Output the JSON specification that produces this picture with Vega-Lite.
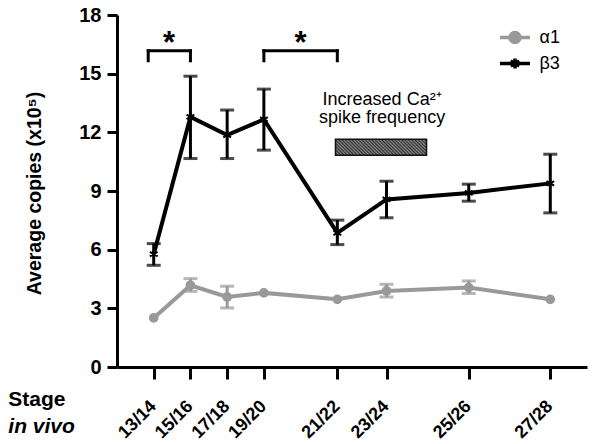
{
  "$schema": "https://vega.github.io/schema/vega-lite/v6.json",
  "autosize": {"type": "none"},
  "width": 470,
  "height": 352,
  "padding": {"left": 117, "top": 15, "right": 13, "bottom": 77},
  "background": "white",
  "config": {
    "view": {"stroke": null},
    "font": "Liberation Sans",
    "axis": {"grid": false, "domainColor": "black", "tickColor": "black", "labelColor": "black", "titleColor": "black", "domainWidth": 3, "tickWidth": 3, "labelFont": "Liberation Sans", "titleFont": "Liberation Sans"}
  },
  "datasets": {
    "expr": [
      {"stage": "13/14", "pos": 0, "gene": "α1", "mean": 2.51, "lo": null, "hi": null},
      {"stage": "15/16", "pos": 1, "gene": "α1", "mean": 4.18, "lo": 3.87, "hi": 4.52},
      {"stage": "17/18", "pos": 2, "gene": "α1", "mean": 3.58, "lo": 3.02, "hi": 4.13},
      {"stage": "19/20", "pos": 3, "gene": "α1", "mean": 3.79, "lo": null, "hi": null},
      {"stage": "21/22", "pos": 5, "gene": "α1", "mean": 3.46, "lo": null, "hi": null},
      {"stage": "23/24", "pos": 6.34, "gene": "α1", "mean": 3.89, "lo": 3.58, "hi": 4.23},
      {"stage": "25/26", "pos": 8.58, "gene": "α1", "mean": 4.06, "lo": 3.76, "hi": 4.4},
      {"stage": "27/28", "pos": 10.8, "gene": "α1", "mean": 3.46, "lo": null, "hi": null},
      {"stage": "13/14", "pos": 0, "gene": "β3", "mean": 5.77, "lo": 5.2, "hi": 6.31},
      {"stage": "15/16", "pos": 1, "gene": "β3", "mean": 12.79, "lo": 10.66, "hi": 14.87},
      {"stage": "17/18", "pos": 2, "gene": "β3", "mean": 11.86, "lo": 10.66, "hi": 13.14},
      {"stage": "19/20", "pos": 3, "gene": "β3", "mean": 12.66, "lo": 11.09, "hi": 14.21},
      {"stage": "21/22", "pos": 5, "gene": "β3", "mean": 6.86, "lo": 6.26, "hi": 7.51},
      {"stage": "23/24", "pos": 6.34, "gene": "β3", "mean": 8.57, "lo": 7.63, "hi": 9.5},
      {"stage": "25/26", "pos": 8.58, "gene": "β3", "mean": 8.9, "lo": 8.48, "hi": 9.35},
      {"stage": "27/28", "pos": 10.8, "gene": "β3", "mean": 9.39, "lo": 7.88, "hi": 10.88}
    ],
    "brackets": [
      {"x": -0.15, "x2": 1, "y": 16.17, "y2": 16.17},
      {"x": -0.15, "x2": -0.15, "y": 16.17, "y2": 15.66},
      {"x": 1, "x2": 1, "y": 16.17, "y2": 15.66},
      {"x": 3, "x2": 5, "y": 16.17, "y2": 16.17},
      {"x": 3, "x2": 3, "y": 16.17, "y2": 15.66},
      {"x": 5, "x2": 5, "y": 16.17, "y2": 15.66}
    ],
    "stars": [
      {"x": 0.42, "y": 16.05, "label": "*"},
      {"x": 4.0, "y": 16.05, "label": "*"}
    ],
    "catext": [
      {"x": 6.22, "y": 13.39, "label": "Increased Ca²⁺"},
      {"x": 6.22, "y": 12.46, "label": "spike frequency"}
    ],
    "bar": [{"x": 4.95, "x2": 7.43, "y": 10.83, "y2": 11.64}],
    "stage1": [{"x": -3.96, "y": -2.01, "label": "Stage"}],
    "stage2": [{"x": -3.96, "y": -3.37, "label": "in vivo"}]
  },
  "layer": [
    {
      "data": {"name": "expr"},
      "encoding": {
        "x": {"field": "pos", "type": "quantitative", "title": null,
          "scale": {"domain": [-1, 11.8], "nice": false, "zero": false},
          "axis": {"values": [0, 1, 2, 3, 5, 6.34, 8.58, 10.8], "labelAngle": -45, "labelAlign": "right", "labelBaseline": "top", "labelOffset": -7, "labelFontSize": 18, "labelFontWeight": "bold", "tickSize": 12, "labelPadding": 18, "labelOverlap": false, "labelBound": false,
            "labelExpr": "datum.value == 0 ? '13/14' : datum.value == 1 ? '15/16' : datum.value == 2 ? '17/18' : datum.value == 3 ? '19/20' : datum.value == 5 ? '21/22' : datum.value == 6.34 ? '23/24' : datum.value == 8.58 ? '25/26' : '27/28'"}},
        "y": {"field": "mean", "type": "quantitative", "title": "Average copies (x10⁵)",
          "scale": {"domain": [0, 18], "nice": false},
          "axis": {"values": [0, 3, 6, 9, 12, 15, 18], "labelFontSize": 20, "labelFontWeight": "bold", "tickSize": 10, "labelPadding": 6, "titleFontSize": 19.5, "titleFontWeight": "bold", "titlePadding": 34, "titleY": 178}},
        "color": {"field": "gene", "type": "nominal",
          "scale": {"domain": ["α1", "β3"], "range": ["#999999", "#000000"]},
          "legend": {"orient": "none", "legendX": 388.5, "legendY": 13, "title": null, "symbolSize": 225, "labelFontSize": 18, "labelOffset": 15, "rowPadding": 1, "padding": 0, "labelColor": "black", "labelFont": "Liberation Sans",
            "encode": {"symbols": {"update": {
              "shape": {"signal": "datum.value === 'α1' ? 'M-2,0L2,0M-0.67,0A0.67,0.67 0 1,0 0.67,0A0.67,0.67 0 1,0 -0.67,0' : 'M-2,0L2,0M0,-0.67L0,0.67M-0.58,-0.33L0.58,0.33M-0.58,0.33L0.58,-0.33'"},
              "fill": {"signal": "datum.value === 'α1' ? '#999999' : 'transparent'"},
              "stroke": {"signal": "datum.value === 'α1' ? '#999999' : '#000000'"},
              "strokeWidth": {"value": 3.5},
              "size": {"value": 225},
              "opacity": {"value": 1}}}}}}
      },
      "layer": [
        {"mark": {"type": "line", "strokeWidth": 4}},
        {
          "transform": [{"filter": "isValid(datum.lo)"}],
          "mark": {"type": "rule", "strokeWidth": 3},
          "encoding": {"y": {"field": "lo", "type": "quantitative"}, "y2": {"field": "hi"}}
        },
        {
          "transform": [{"filter": "isValid(datum.lo)"}, {"fold": ["lo", "hi"], "as": ["end", "val"]}],
          "mark": {"type": "tick", "orient": "horizontal", "size": 14, "thickness": 3},
          "encoding": {"y": {"field": "val", "type": "quantitative"}}
        },
        {
          "transform": [{"filter": "datum.gene === 'α1'"}],
          "mark": {"type": "point", "shape": "circle", "filled": true, "size": 95, "opacity": 1}
        },
        {
          "transform": [{"filter": "datum.gene === 'β3'"}],
          "mark": {"type": "point", "shape": "M0,-1L0,1M-0.87,-0.5L0.87,0.5M-0.87,0.5L0.87,-0.5", "filled": false, "size": 80, "strokeWidth": 2, "opacity": 1}
        }
      ]
    },
    {
      "data": {"name": "brackets"},
      "mark": {"type": "rule", "strokeWidth": 3, "color": "black", "strokeCap": "square"},
      "encoding": {
        "x": {"field": "x", "type": "quantitative"},
        "x2": {"field": "x2"},
        "y": {"field": "y", "type": "quantitative"},
        "y2": {"field": "y2"}
      }
    },
    {
      "data": {"name": "stars"},
      "mark": {"type": "text", "fontSize": 31, "fontWeight": "bold", "align": "center", "baseline": "alphabetic", "color": "black"},
      "encoding": {
        "x": {"field": "x", "type": "quantitative"},
        "y": {"field": "y", "type": "quantitative"},
        "text": {"field": "label"}
      }
    },
    {
      "data": {"name": "catext"},
      "mark": {"type": "text", "fontSize": 18, "align": "center", "baseline": "alphabetic", "color": "black"},
      "encoding": {
        "x": {"field": "x", "type": "quantitative"},
        "y": {"field": "y", "type": "quantitative"},
        "text": {"field": "label"}
      }
    },
    {
      "data": {"name": "bar"},
      "mark": {"type": "rect", "stroke": "#111111", "strokeWidth": 1.5,
        "fill": {"gradient": "linear", "x1": -0.1, "y1": 0.5, "x2": 1.1, "y2": 0.289, "stops": [
          {"offset": 0, "color": "#2e2e2e"}, {"offset": 0.0147, "color": "#8c8c8c"}, {"offset": 0.0294, "color": "#2e2e2e"}, {"offset": 0.0441, "color": "#8c8c8c"},
          {"offset": 0.0588, "color": "#2e2e2e"}, {"offset": 0.0735, "color": "#8c8c8c"}, {"offset": 0.0882, "color": "#2e2e2e"}, {"offset": 0.1029, "color": "#8c8c8c"},
          {"offset": 0.1176, "color": "#2e2e2e"}, {"offset": 0.1324, "color": "#8c8c8c"}, {"offset": 0.1471, "color": "#2e2e2e"}, {"offset": 0.1618, "color": "#8c8c8c"},
          {"offset": 0.1765, "color": "#2e2e2e"}, {"offset": 0.1912, "color": "#8c8c8c"}, {"offset": 0.2059, "color": "#2e2e2e"}, {"offset": 0.2206, "color": "#8c8c8c"},
          {"offset": 0.2353, "color": "#2e2e2e"}, {"offset": 0.25, "color": "#8c8c8c"}, {"offset": 0.2647, "color": "#2e2e2e"}, {"offset": 0.2794, "color": "#8c8c8c"},
          {"offset": 0.2941, "color": "#2e2e2e"}, {"offset": 0.3088, "color": "#8c8c8c"}, {"offset": 0.3235, "color": "#2e2e2e"}, {"offset": 0.3382, "color": "#8c8c8c"},
          {"offset": 0.3529, "color": "#2e2e2e"}, {"offset": 0.3676, "color": "#8c8c8c"}, {"offset": 0.3824, "color": "#2e2e2e"}, {"offset": 0.3971, "color": "#8c8c8c"},
          {"offset": 0.4118, "color": "#2e2e2e"}, {"offset": 0.4265, "color": "#8c8c8c"}, {"offset": 0.4412, "color": "#2e2e2e"}, {"offset": 0.4559, "color": "#8c8c8c"},
          {"offset": 0.4706, "color": "#2e2e2e"}, {"offset": 0.4853, "color": "#8c8c8c"}, {"offset": 0.5, "color": "#2e2e2e"}, {"offset": 0.5147, "color": "#8c8c8c"},
          {"offset": 0.5294, "color": "#2e2e2e"}, {"offset": 0.5441, "color": "#8c8c8c"}, {"offset": 0.5588, "color": "#2e2e2e"}, {"offset": 0.5735, "color": "#8c8c8c"},
          {"offset": 0.5882, "color": "#2e2e2e"}, {"offset": 0.6029, "color": "#8c8c8c"}, {"offset": 0.6176, "color": "#2e2e2e"}, {"offset": 0.6324, "color": "#8c8c8c"},
          {"offset": 0.6471, "color": "#2e2e2e"}, {"offset": 0.6618, "color": "#8c8c8c"}, {"offset": 0.6765, "color": "#2e2e2e"}, {"offset": 0.6912, "color": "#8c8c8c"},
          {"offset": 0.7059, "color": "#2e2e2e"}, {"offset": 0.7206, "color": "#8c8c8c"}, {"offset": 0.7353, "color": "#2e2e2e"}, {"offset": 0.75, "color": "#8c8c8c"},
          {"offset": 0.7647, "color": "#2e2e2e"}, {"offset": 0.7794, "color": "#8c8c8c"}, {"offset": 0.7941, "color": "#2e2e2e"}, {"offset": 0.8088, "color": "#8c8c8c"},
          {"offset": 0.8235, "color": "#2e2e2e"}, {"offset": 0.8382, "color": "#8c8c8c"}, {"offset": 0.8529, "color": "#2e2e2e"}, {"offset": 0.8676, "color": "#8c8c8c"},
          {"offset": 0.8824, "color": "#2e2e2e"}, {"offset": 0.8971, "color": "#8c8c8c"}, {"offset": 0.9118, "color": "#2e2e2e"}, {"offset": 0.9265, "color": "#8c8c8c"},
          {"offset": 0.9412, "color": "#2e2e2e"}, {"offset": 0.9559, "color": "#8c8c8c"}, {"offset": 0.9706, "color": "#2e2e2e"}, {"offset": 0.9853, "color": "#8c8c8c"},
          {"offset": 1, "color": "#2e2e2e"}]}},
      "encoding": {
        "x": {"field": "x", "type": "quantitative"},
        "x2": {"field": "x2"},
        "y": {"field": "y", "type": "quantitative"},
        "y2": {"field": "y2"}
      }
    },
    {
      "data": {"name": "stage1"},
      "mark": {"type": "text", "fontSize": 21, "fontWeight": "bold", "align": "left", "baseline": "alphabetic", "color": "black", "clip": false},
      "encoding": {
        "x": {"field": "x", "type": "quantitative"},
        "y": {"field": "y", "type": "quantitative"},
        "text": {"field": "label"}
      }
    },
    {
      "data": {"name": "stage2"},
      "mark": {"type": "text", "fontSize": 21, "fontWeight": "bold", "fontStyle": "italic", "align": "left", "baseline": "alphabetic", "color": "black", "clip": false},
      "encoding": {
        "x": {"field": "x", "type": "quantitative"},
        "y": {"field": "y", "type": "quantitative"},
        "text": {"field": "label"}
      }
    }
  ]
}
